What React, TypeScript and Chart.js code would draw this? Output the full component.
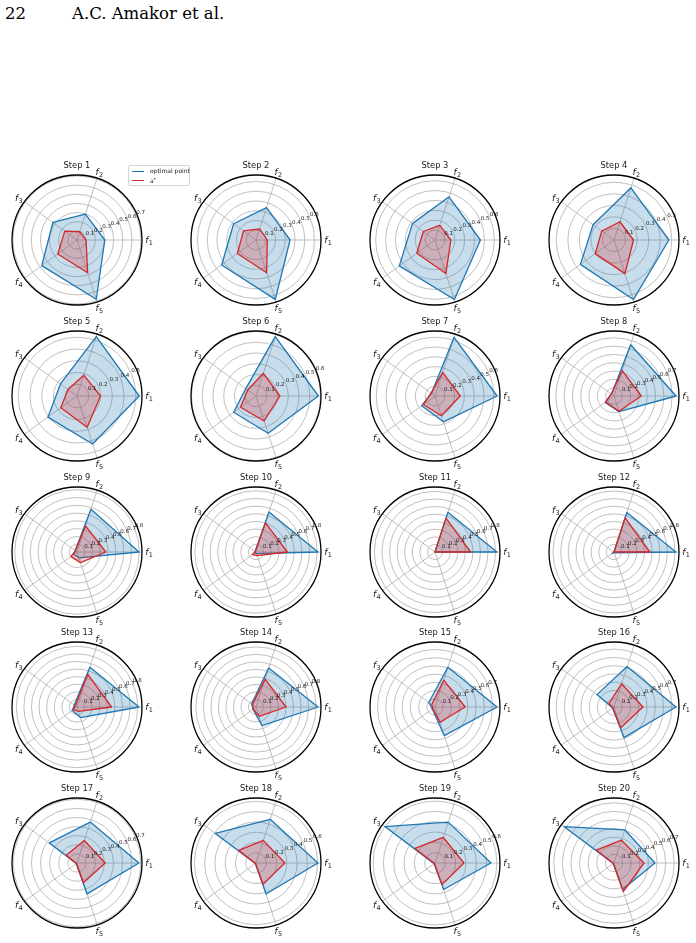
import React, { useEffect, useRef } from 'react';
import { Chart, registerables } from 'chart.js';

Chart.register(...registerables);

// Subplot titles, one per optimisation step
const STEP_TITLES = [
  'Step 1', 'Step 2', 'Step 3', 'Step 4',
  'Step 5', 'Step 6', 'Step 7', 'Step 8',
  'Step 9', 'Step 10', 'Step 11', 'Step 12',
  'Step 13', 'Step 14', 'Step 15', 'Step 16',
  'Step 17', 'Step 18', 'Step 19', 'Step 20',
];

// Objective indices shown as f_1 ... f_5 around each polar axis
const OBJECTIVES = ['1', '2', '3', '4', '5'];

// Objective values [f1, f2, f3, f4, f5] of the optimal point at each step
const OPTIMAL_POINT = [
  [0.304, 0.297, 0.326, 0.476, 0.681],
  [0.349, 0.349, 0.284, 0.435, 0.640],
  [0.459, 0.459, 0.282, 0.446, 0.633],
  [0.475, 0.475, 0.224, 0.359, 0.542],
  [0.529, 0.531, 0.174, 0.306, 0.429],
  [0.580, 0.580, 0.117, 0.257, 0.364],
  [0.634, 0.630, 0.045, 0.168, 0.277],
  [0.746, 0.648, 0.037, 0.131, 0.197],
  [0.796, 0.578, 0.030, 0.052, 0.078],
  [0.810, 0.550, 0.013, 0.018, 0.022],
  [0.817, 0.550, 0.000, 0.000, 0.000],
  [0.812, 0.545, 0.000, 0.030, 0.010],
  [0.817, 0.550, 0.045, 0.076, 0.147],
  [0.826, 0.545, 0.071, 0.050, 0.260],
  [0.755, 0.510, 0.094, 0.040, 0.367],
  [0.750, 0.514, 0.255, 0.020, 0.390],
  [0.680, 0.472, 0.375, 0.010, 0.357],
  [0.603, 0.447, 0.490, 0.007, 0.318],
  [0.542, 0.416, 0.600, 0.010, 0.270],
  [0.476, 0.406, 0.720, 0.010, 0.325],
];

// Objective values [f1, f2, f3, f4, f5] of a* at each step
const A_STAR = [
  [0.099, 0.095, 0.165, 0.260, 0.377],
  [0.116, 0.120, 0.158, 0.236, 0.353],
  [0.160, 0.156, 0.146, 0.228, 0.357],
  [0.169, 0.166, 0.131, 0.201, 0.306],
  [0.200, 0.186, 0.094, 0.171, 0.280],
  [0.222, 0.222, 0.095, 0.178, 0.244],
  [0.257, 0.253, 0.050, 0.147, 0.212],
  [0.328, 0.320, 0.041, 0.125, 0.193],
  [0.370, 0.352, 0.026, 0.096, 0.143],
  [0.410, 0.400, 0.013, 0.060, 0.050],
  [0.470, 0.470, 0.000, 0.000, 0.000],
  [0.470, 0.470, 0.000, 0.000, 0.000],
  [0.455, 0.455, 0.027, 0.060, 0.060],
  [0.400, 0.390, 0.058, 0.045, 0.130],
  [0.367, 0.343, 0.049, 0.033, 0.196],
  [0.350, 0.296, 0.074, 0.020, 0.263],
  [0.309, 0.260, 0.145, 0.010, 0.227],
  [0.281, 0.232, 0.209, 0.007, 0.219],
  [0.280, 0.260, 0.240, 0.010, 0.220],
  [0.348, 0.279, 0.255, 0.010, 0.350],
];

// Chart.js places radar spokes clockwise; objectives go counter-clockwise
// starting from the right, so the spokes are fed in this order.
const SPOKE_ORDER = [0, 4, 3, 2, 1];

// Grid geometry of the 5 x 4 subplot page
const COL_X = [77, 256, 435, 614];
const ROW_Y = [240, 396, 552, 707, 863];
const CANVAS_W = 170;
const CANVAS_H = 160;
const PAD_X = 20;
const PAD_Y = 15;

const BLUE = '#1f77b4';
const RED = '#d62728';
const GRID = '#b0b0b0';
const INK = '#1a1a1a';

// Radial limit: data maximum plus a 5% margin of the data range
function radialMax(a: number[], b: number[]) {
  const all = [...a, ...b];
  const hi = Math.max(...all);
  const lo = Math.min(...all);
  return hi + 0.05 * (hi - lo);
}

function radialTicks(max: number) {
  const out: number[] = [0];
  for (let k = 1; k / 10 <= max + 1e-9; k++) out.push(k / 10);
  return out;
}

const polarDecor = {
  id: 'polarDecor',
  afterDraw(chart: any, _args: any, opts: any) {
    const scale = chart.scales.r;
    const ctx: CanvasRenderingContext2D = chart.ctx;
    const cx = scale.xCenter;
    const cy = scale.yCenter;
    const R = scale.drawingArea;
    ctx.save();

    // polar spine
    ctx.beginPath();
    ctx.arc(cx, cy, R, 0, Math.PI * 2);
    ctx.strokeStyle = '#000';
    ctx.lineWidth = 1.3;
    ctx.stroke();

    // radial tick labels along the 22.5 degree direction
    const a = (22.5 * Math.PI) / 180;
    ctx.font = '5.5px "DejaVu Sans"';
    ctx.fillStyle = INK;
    ctx.textAlign = 'left';
    ctx.textBaseline = 'bottom';
    scale.ticks.forEach((t: any) => {
      if (t.value <= 0) return;
      const d = scale.getDistanceFromCenterForValue(t.value);
      ctx.fillText(t.value.toFixed(1), cx + d * Math.cos(a), cy - d * Math.sin(a));
    });

    // spoke labels f_i
    chart.data.labels.forEach((sub: string, i: number) => {
      const p = scale.getPointPosition(i, R + 7);
      ctx.font = 'italic 9px "DejaVu Sans"';
      const wf = ctx.measureText('f').width;
      ctx.font = '6.5px "DejaVu Sans"';
      const ws = ctx.measureText(sub).width;
      const x0 = p.x - (wf + ws) / 2;
      ctx.textAlign = 'left';
      ctx.textBaseline = 'alphabetic';
      ctx.font = 'italic 9px "DejaVu Sans"';
      ctx.fillText('f', x0, p.y + 3);
      ctx.font = '6.5px "DejaVu Sans"';
      ctx.fillText(sub, x0 + wf + 0.3, p.y + 5);
    });

    // subplot title
    ctx.font = '8.3px "DejaVu Sans"';
    ctx.textAlign = 'center';
    ctx.textBaseline = 'middle';
    ctx.fillText(opts.title, cx, cy - 74);
    ctx.restore();
  },
};

function RadarPanel({ index }: { index: number }) {
  const ref = useRef<HTMLCanvasElement | null>(null);

  useEffect(() => {
    if (!ref.current) return;
    const blue = OPTIMAL_POINT[index];
    const red = A_STAR[index];
    const rmax = radialMax(blue, red);
    const tickValues = radialTicks(rmax);

    const chart = new Chart(ref.current, {
      type: 'radar',
      data: {
        labels: SPOKE_ORDER.map((k) => OBJECTIVES[k]),
        datasets: [
          {
            label: 'a*',
            data: SPOKE_ORDER.map((k) => red[k]),
            borderColor: RED,
            backgroundColor: 'rgba(214, 39, 40, 0.25)',
            borderWidth: 1.3,
            borderJoinStyle: 'round',
            fill: true,
            order: 0,
          },
          {
            label: 'optimal point',
            data: SPOKE_ORDER.map((k) => blue[k]),
            borderColor: BLUE,
            backgroundColor: 'rgba(31, 119, 180, 0.25)',
            borderWidth: 1.3,
            borderJoinStyle: 'round',
            fill: true,
            order: 1,
          },
        ],
      },
      options: {
        responsive: false,
        animation: false,
        devicePixelRatio: 1,
        events: [],
        layout: { padding: { left: PAD_X, right: PAD_X, top: PAD_Y, bottom: PAD_Y } },
        elements: { point: { radius: 0, hoverRadius: 0 }, line: { tension: 0 } },
        plugins: {
          legend: { display: false },
          tooltip: { enabled: false },
          polarDecor: { title: STEP_TITLES[index] },
        } as any,
        scales: {
          r: {
            min: 0,
            max: rmax,
            startAngle: 90,
            afterBuildTicks: (scale: any) => {
              scale.ticks = tickValues.map((v) => ({ value: v }));
            },
            ticks: { display: false },
            grid: { circular: true, color: GRID, lineWidth: 0.8 },
            angleLines: { display: true, color: GRID, lineWidth: 0.8 },
            pointLabels: { display: false },
          },
        },
      } as any,
      plugins: [polarDecor],
    });
    return () => chart.destroy();
  }, [index]);

  const col = index % 4;
  const row = Math.floor(index / 4);
  return (
    <canvas
      ref={ref}
      width={CANVAS_W}
      height={CANVAS_H}
      style={{
        position: 'absolute',
        left: COL_X[col] - (PAD_X + 65),
        top: ROW_Y[row] - (PAD_Y + 65),
        width: CANVAS_W,
        height: CANVAS_H,
      }}
    />
  );
}

function Legend() {
  const row = (color: string, label: React.ReactNode, top: number) => (
    <div style={{ position: 'absolute', left: 3, top, height: 8, width: 58 }}>
      <div style={{ position: 'absolute', left: 0, top: 3.5, width: 12, height: 1.4, background: color }} />
      <div
        style={{
          position: 'absolute',
          left: 18,
          top: 0,
          font: '6px "DejaVu Sans"',
          lineHeight: '8px',
          color: INK,
          whiteSpace: 'nowrap',
        }}
      >
        {label}
      </div>
    </div>
  );
  return (
    <div
      style={{
        position: 'absolute',
        left: 128,
        top: 165,
        width: 62,
        height: 21,
        border: '0.8px solid #d5d5d5',
        borderRadius: 2,
        background: 'rgba(255,255,255,0.8)',
        boxSizing: 'border-box',
      }}
    >
      {row(BLUE, 'optimal point', 1)}
      {row(
        RED,
        <span>
          <i>a</i>
          <sup style={{ fontSize: '4.5px', verticalAlign: '2px' }}>*</sup>
        </span>,
        10
      )}
    </div>
  );
}

export default function App() {
  const header = {
    position: 'absolute' as const,
    top: 6,
    font: '16.5px "DejaVu Serif"',
    lineHeight: '16px',
    color: '#000',
    whiteSpace: 'nowrap' as const,
  };
  return (
    <div
      style={{
        position: 'absolute',
        left: 0,
        top: 0,
        width: 696,
        height: 943,
        background: '#fff',
        overflow: 'hidden',
      }}
    >
      <div style={{ ...header, left: 5 }}>22</div>
      <div style={{ ...header, left: 72 }}>A.C. Amakor et al.</div>
      {STEP_TITLES.map((_, i) => (
        <RadarPanel key={i} index={i} />
      ))}
      <Legend />
    </div>
  );
}
